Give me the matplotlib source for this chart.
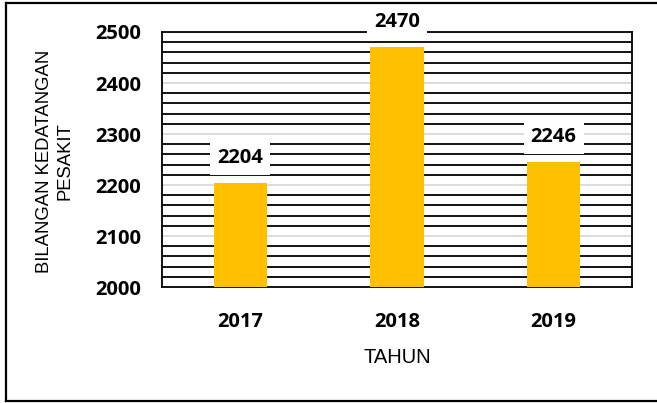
import matplotlib.pyplot as plt
from matplotlib.lines import Line2D
from matplotlib.ticker import MultipleLocator

# data
years = ['2017', '2018', '2019']
visits = [2204, 2470, 2246]

bar_color = '#FFC000'

fig = plt.figure(figsize=(6.57, 4.03), dpi=100)
ax = fig.add_axes([0.2466, 0.2878, 0.7154, 0.6328])

# minor gridlines black every 20, major light gray every 100
ax.set_ylim(2000, 2500)
ax.yaxis.set_major_locator(MultipleLocator(100))
ax.yaxis.set_minor_locator(MultipleLocator(20))
ax.grid(which='minor', axis='y', color='black', linewidth=1.3, zorder=0)
ax.grid(which='major', axis='y', color='#d9d9d9', linewidth=1.3, zorder=0)
ax.set_axisbelow(True)

x = range(len(years))
bars = ax.bar(x, visits, width=0.34, color=bar_color, zorder=3)
ax.set_xlim(-0.5, len(years) - 0.5)
ax.set_xticks(list(x))
ax.set_xticklabels(years)

for sp in ax.spines.values():
    sp.set_color('black')
    sp.set_linewidth(1.3)

ax.tick_params(axis='both', which='both', length=0)
ax.tick_params(axis='y', pad=15)
ax.tick_params(axis='x', pad=18)
for lbl in ax.get_yticklabels() + ax.get_xticklabels():
    lbl.set_fontfamily('Open Sans')
    lbl.set_fontweight('bold')
    lbl.set_fontsize(14.5)

for xi, v in zip(x, visits):
    ax.annotate(str(v), xy=(xi, v), xytext=(0, 18), textcoords='offset points',
                ha='center', va='center', fontsize=14.5, fontweight='bold',
                fontfamily='Open Sans', zorder=5, annotation_clip=False,
                bbox=dict(boxstyle='square,pad=0.35', fc='white', ec='none'))

fig.text(55 / 657, 0.599, 'BILANGAN KEDATANGAN\nPESAKIT', rotation=90,
         ha='center', va='center', multialignment='center',
         fontsize=13.3, fontfamily='Liberation Sans', linespacing=1.25)
fig.text(0.604, 0.1141, 'TAHUN', ha='center', va='center',
         fontsize=14.5, fontfamily='Liberation Sans')

# outer border (left, top, bottom)
fig.add_artist(Line2D([6 / 657, 6 / 657], [2 / 403, 1 - 3 / 403], color='black', lw=1.6))
fig.add_artist(Line2D([6 / 657, 1.0], [1 - 3 / 403, 1 - 3 / 403], color='black', lw=1.6))
fig.add_artist(Line2D([6 / 657, 1.0], [2 / 403, 2 / 403], color='black', lw=1.6))

fig.savefig('out.png', dpi=100)
